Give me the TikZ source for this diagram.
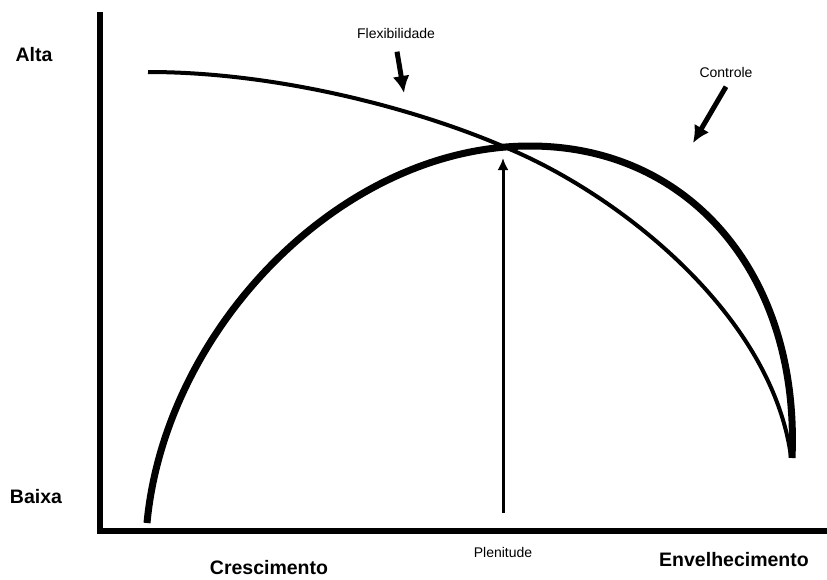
\documentclass[tikz,border=0pt]{standalone}
\usepackage{fontspec}
\setmainfont{Liberation Sans}
\usetikzlibrary{arrows.meta}

\begin{document}
\begin{tikzpicture}[
    x=1pt, y=-1pt,
    axis/.style={line width=6pt},
    thincurve/.style={line width=4pt},
    thickcurve/.style={line width=7pt},
    pointer/.style={line width=5pt, -{Latex[length=17pt, width=17pt]}},
    marker/.style={line width=3pt, -{Latex[length=12pt, width=11pt]}},
    level/.style={font=\bfseries\fontsize{19.5}{22}\selectfont},
    phase/.style={font=\bfseries\fontsize{19.5}{22}\selectfont},
    small/.style={font=\fontsize{14}{16}\selectfont}
]
    \useasboundingbox (0,0) rectangle (827,579);

    % Axes
    \coordinate (top) at (100,12);
    \coordinate (origin) at (100,531);
    \coordinate (right) at (827,531);
    \draw[axis] (top) -- (origin) -- (right);

    % Levels and phases
    \node[level] (alta) at (34,55) {Alta};
    \node[level] (baixa) at (36,497) {Baixa};
    \node[phase] (cresc) at (269,568) {Crescimento};
    \node[phase] (envel) at (734,560) {Envelhecimento};

    % Flexibility curve
    \coordinate (flexstart) at (148,72);
    \coordinate (cross) at (507,148);
    \coordinate (meet) at (791,457);
    \draw[thincurve] (flexstart) .. controls (280,72) and (420,110) .. (cross)
        .. controls (620,195) and (772,315) .. (meet);

    % Control curve
    \coordinate (ctrlstart) at (147,523);
    \coordinate (peak) at (530,146);
    \coordinate (ctrlend) at (792,458);
    \draw[thickcurve] (ctrlstart) .. controls (165,330) and (340,146) .. (peak)
        .. controls (690,146) and (800,275) .. (ctrlend);

    % Labels with arrows
    \node[small] (flex) at (396,33) {Flexibilidade};
    \coordinate (flextip) at (404,93);
    \draw[pointer] ([xshift=1pt, yshift=-10pt]flex.south) -- (flextip);

    \node[small] (ctrl) at (726,72) {Controle};
    \coordinate (ctrltip) at (693,143);
    \draw[pointer] ([xshift=0pt, yshift=-6pt]ctrl.south) -- (ctrltip);

    \node[small] (plen) at (503,552) {Plenitude};
    \coordinate (plenbase) at (503,513);
    \coordinate (plentip) at (503,158);
    \draw[marker] (plenbase) -- (plentip);
\end{tikzpicture}
\end{document}
